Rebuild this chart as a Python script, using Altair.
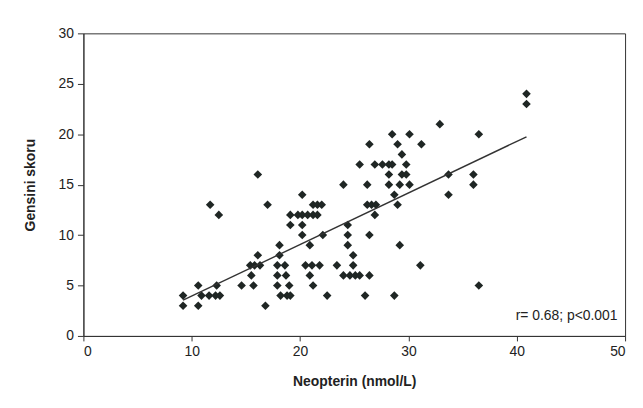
import altair as alt
import pandas as pd

# Neopterin (nmol/L) values and Gensini scores
neopterin = [
    9.2, 10.6, 16.8,
    9.2, 10.9, 11.6, 12.2, 12.6, 18.2, 18.8, 19.1, 22.5, 26.0, 28.7,
    10.6, 12.3, 14.6, 15.7, 17.9, 19.0, 21.2, 36.5,
    15.5, 17.9, 18.7, 20.9, 24.0, 24.6, 25.1, 25.5, 26.4,
    15.4, 15.8, 16.3, 17.9, 18.6, 20.5, 21.1, 21.8, 23.4, 24.9, 31.1,
    16.1, 18.1, 24.9,
    18.1, 20.9, 24.4, 29.2,
    20.2, 22.1, 24.4, 26.4,
    19.1, 20.2, 24.4,
    12.5, 19.1, 19.8, 20.2, 20.7, 21.2, 21.6, 26.9,
    11.7, 17.0, 21.2, 21.6, 22.0, 26.2, 26.6, 27.0, 29.0,
    20.2, 28.7, 33.7,
    24.0, 26.2, 28.2, 29.2, 30.1, 36.0,
    16.1, 28.2, 29.4, 29.8, 33.7, 36.0,
    25.5, 26.9, 27.6, 28.2, 28.5, 29.8,
    29.4,
    26.4, 29.0, 31.2,
    28.5, 30.1, 36.5,
    32.9,
    40.9,
    40.9,
]
gensini = (
    [3] * 3 + [4] * 11 + [5] * 8 + [6] * 9 + [7] * 11 + [8] * 3 + [9] * 4
    + [10] * 4 + [11] * 3 + [12] * 8 + [13] * 9 + [14] * 3 + [15] * 6
    + [16] * 6 + [17] * 6 + [18] * 1 + [19] * 3 + [20] * 3 + [21] * 1
    + [23] * 1 + [24] * 1
)

annot_text = ["r= 0.68; p<0.001"]
annot_x = [49.3]
annot_y = [2.0]

df = pd.DataFrame({"Neopterin": neopterin, "Gensini": gensini})
ann = pd.DataFrame({"x": annot_x, "y": annot_y, "t": annot_text})

FONT = "Liberation Sans"

xscale = alt.Scale(domain=[0, 50], nice=False, zero=True)
yscale = alt.Scale(domain=[0, 30], nice=False)

xaxis = alt.Axis(values=[0, 10, 20, 30, 40, 50], title="Neopterin (nmol/L)",
                 grid=False, tickSize=5, labelPadding=4, titlePadding=16)
yaxis = alt.Axis(values=[0, 5, 10, 15, 20, 25, 30], title="Gensini skoru",
                 grid=False, tickSize=6, labelPadding=4, titlePadding=21)

points = alt.Chart(df).mark_point(
    shape="diamond", filled=True, size=75, color="#1f2624", opacity=1
).encode(
    x=alt.X("Neopterin:Q", scale=xscale, axis=xaxis),
    y=alt.Y("Gensini:Q", scale=yscale, axis=yaxis),
)

trend = alt.Chart(df).transform_regression(
    "Neopterin", "Gensini"
).mark_line(color="#333", strokeWidth=1.4).encode(
    x=alt.X("Neopterin:Q", scale=xscale),
    y=alt.Y("Gensini:Q", scale=yscale),
)

label = alt.Chart(ann).mark_text(
    align="right", baseline="middle", font=FONT, fontSize=14, color="#222"
).encode(
    x=alt.X("x:Q", scale=xscale),
    y=alt.Y("y:Q", scale=yscale),
    text="t:N",
)

chart = alt.layer(points, trend, label).properties(
    width=546, height=305,
    background="white",
    autosize=alt.AutoSizeParams(type="none"),
    padding={"left": 76, "top": 24, "right": 10, "bottom": 60},
).configure_view(
    stroke="#333", strokeWidth=1
).configure_axis(
    labelFont=FONT, titleFont=FONT, labelFontSize=14, titleFontSize=14,
    titleFontWeight="bold", labelColor="#222", titleColor="#222",
    domainColor="#333", tickColor="#333",
)

chart.save("out.html", embed_options={"renderer": "svg", "actions": False})
